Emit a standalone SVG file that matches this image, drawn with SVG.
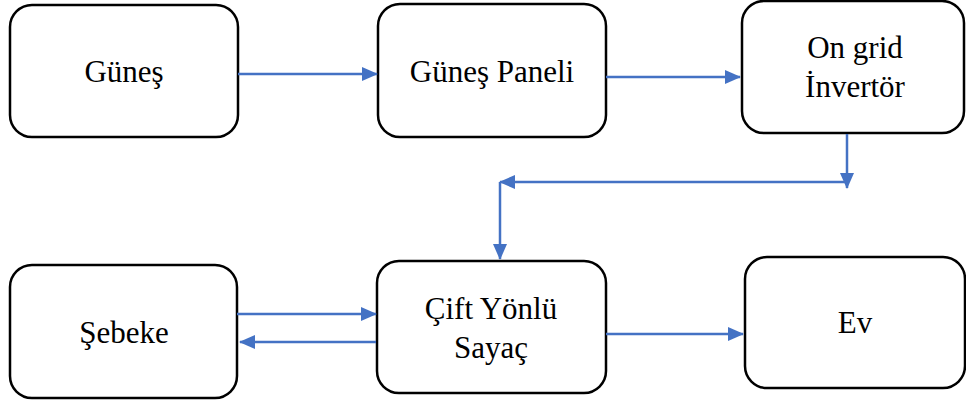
<svg xmlns="http://www.w3.org/2000/svg" width="966" height="403" viewBox="0 0 966 403">
<style>
.box{fill:#fff;stroke:#000;stroke-width:2.5}
.t{font-family:'Liberation Serif','Times New Roman',serif;font-size:31px;fill:#000;text-anchor:middle}
.c{fill:none;stroke:#4472C4;stroke-width:2.5}
</style>
<defs>
<marker id="ah" markerWidth="16" markerHeight="14" refX="15" refY="7" orient="auto" markerUnits="userSpaceOnUse">
<path d="M0,0 L16,7 L0,14 Z" fill="#4472C4"/>
</marker>
</defs>
<rect width="966" height="403" fill="#fff"/>
<g id="gunes"><rect class="box" x="10" y="5" width="228" height="132" rx="22"/><text class="t" x="124" y="82">Güneş</text></g>
<g id="panel"><rect class="box" x="378" y="4" width="228" height="133" rx="22"/><text class="t" x="492" y="82">Güneş Paneli</text></g>
<g id="inverter"><rect class="box" x="742" y="1" width="222" height="132" rx="22"/><text class="t" x="855" y="58">On grid</text><text class="t" x="855" y="97">İnvertör</text></g>
<g id="sebeke"><rect class="box" x="10" y="265" width="227" height="133" rx="22"/><text class="t" x="124" y="343">Şebeke</text></g>
<g id="sayac"><rect class="box" x="377" y="261" width="229" height="132" rx="22"/><text class="t" x="491" y="319">Çift Yönlü</text><text class="t" x="491" y="358">Sayaç</text></g>
<g id="ev"><rect class="box" x="745" y="257" width="220" height="131" rx="22"/><text class="t" x="855" y="333">Ev</text></g>
<g id="connectors">
<line class="c" x1="238" y1="74" x2="377" y2="74" marker-end="url(#ah)"/>
<line class="c" x1="606" y1="77" x2="740" y2="77" marker-end="url(#ah)"/>
<line class="c" x1="847" y1="134" x2="847" y2="188" marker-end="url(#ah)"/>
<line class="c" x1="847" y1="182" x2="500" y2="182" marker-end="url(#ah)"/>
<line class="c" x1="500" y1="182" x2="500" y2="259" marker-end="url(#ah)"/>
<line class="c" x1="237" y1="314" x2="376" y2="314" marker-end="url(#ah)"/>
<line class="c" x1="376" y1="342" x2="240" y2="342" marker-end="url(#ah)"/>
<line class="c" x1="606" y1="334" x2="743" y2="334" marker-end="url(#ah)"/>
</g>
</svg>
